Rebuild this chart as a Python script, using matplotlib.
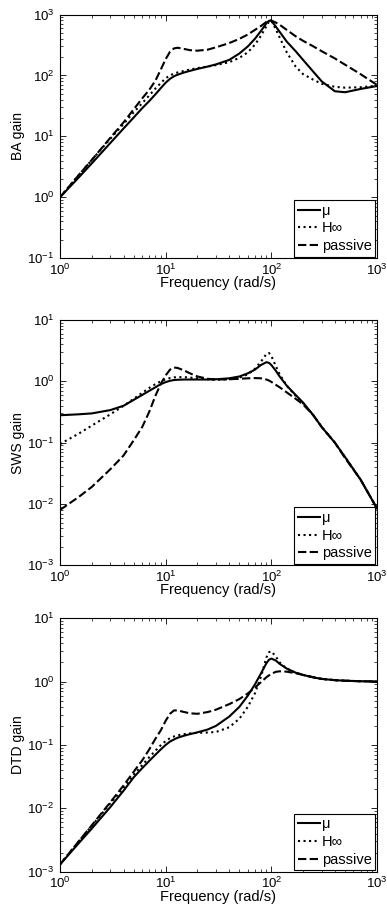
import matplotlib
matplotlib.use("Agg")
import matplotlib.pyplot as plt
from matplotlib.ticker import LogLocator, NullFormatter

plt.rcParams['font.family'] = ['Liberation Sans', 'DejaVu Sans']
plt.rcParams['mathtext.default'] = 'regular'
plt.rcParams['font.size'] = 10

# frequency grid (rad/s) shared by all curves
freq = [1, 1.5, 2, 3, 4, 5, 6, 7, 8, 9, 10, 11, 12, 13, 15, 17, 20, 25, 30,
        40, 50, 60, 70, 80, 90, 95, 100, 110, 120, 140, 170, 200, 250, 300,
        400, 500, 700, 1000]

# body acceleration gain
ba_mu = [1.0, 2.1, 3.6, 7.8, 13.5, 20.5, 29, 38, 49, 62, 76, 88, 97, 103, 112,
         119, 128, 140, 152, 180, 230, 300, 400, 540, 720, 790, 790, 640, 520,
         360, 250, 180, 115, 80, 55, 53, 60, 67]
ba_hinf = [1.0, 2.3, 4.1, 9.2, 16, 25, 35, 47, 61, 75, 90, 100, 107, 112, 119,
           125, 132, 140, 148, 165, 195, 240, 320, 450, 650, 760, 800, 580, 420,
           240, 140, 105, 85, 73, 65, 63, 64, 68]
ba_pas = [1.0, 2.3, 4.1, 9.5, 17, 28, 42, 58, 82, 125, 185, 245, 278, 285, 272,
          260, 255, 265, 290, 340, 400, 470, 560, 650, 760, 800, 800, 740, 680,
          560, 440, 370, 300, 250, 190, 150, 105, 70]

# suspension working space gain
sws_mu = [0.28, 0.29, 0.30, 0.34, 0.40, 0.50, 0.60, 0.70, 0.80, 0.90, 0.97,
          1.02, 1.05, 1.06, 1.07, 1.07, 1.07, 1.07, 1.08, 1.12, 1.2, 1.35,
          1.55, 1.85, 2.05, 2.0, 1.85, 1.5, 1.2, 0.85, 0.6, 0.45, 0.28, 0.18,
          0.1, 0.058, 0.025, 0.0085]
sws_hinf = [0.095, 0.14, 0.19, 0.29, 0.40, 0.52, 0.65, 0.78, 0.9, 1.0, 1.08,
            1.13, 1.16, 1.17, 1.17, 1.15, 1.12, 1.08, 1.06, 1.08, 1.15, 1.3,
            1.6, 2.1, 2.8, 2.9, 2.6, 1.8, 1.3, 0.85, 0.58, 0.44, 0.28, 0.18,
            0.1, 0.058, 0.025, 0.0085]
sws_pas = [0.008, 0.013, 0.019, 0.037, 0.062, 0.11, 0.18, 0.32, 0.58, 0.91,
           1.25, 1.55, 1.68, 1.65, 1.5, 1.35, 1.2, 1.1, 1.07, 1.08, 1.1, 1.12,
           1.13, 1.12, 1.07, 1.03, 0.98, 0.88, 0.8, 0.66, 0.52, 0.42, 0.28,
           0.18, 0.1, 0.056, 0.025, 0.0085]

# dynamic tyre deflection gain
dtd_mu = [0.0013, 0.0028, 0.0048, 0.0105, 0.019, 0.031, 0.043, 0.056, 0.07,
          0.085, 0.1, 0.113, 0.122, 0.13, 0.14, 0.148, 0.158, 0.175, 0.2, 0.28,
          0.4, 0.6, 0.9, 1.35, 1.95, 2.2, 2.3, 2.15, 1.9, 1.6, 1.38, 1.27,
          1.16, 1.1, 1.05, 1.03, 1.01, 1.0]
dtd_hinf = [0.0013, 0.003, 0.0053, 0.012, 0.021, 0.034, 0.048, 0.064, 0.081,
            0.099, 0.115, 0.128, 0.136, 0.142, 0.148, 0.152, 0.155, 0.157,
            0.16, 0.19, 0.26, 0.4, 0.65, 1.2, 2.4, 2.9, 3.0, 2.5, 2.0, 1.6,
            1.38, 1.27, 1.16, 1.1, 1.05, 1.03, 1.01, 1.0]
dtd_pas = [0.0013, 0.003, 0.0054, 0.0125, 0.023, 0.038, 0.057, 0.085, 0.125,
           0.17, 0.24, 0.31, 0.35, 0.35, 0.33, 0.315, 0.31, 0.33, 0.36, 0.44,
           0.53, 0.65, 0.8, 0.98, 1.17, 1.25, 1.32, 1.42, 1.45, 1.43, 1.35,
           1.27, 1.17, 1.1, 1.05, 1.03, 1.01, 1.0]

labels = ['\u03bc', 'H\u221e', 'passive']
ylabels = ['BA gain', 'SWS gain', 'DTD gain']
ylims = [(1e-1, 1e3), (1e-3, 1e1), (1e-3, 1e1)]
data = [(ba_mu, ba_hinf, ba_pas), (sws_mu, sws_hinf, sws_pas),
        (dtd_mu, dtd_hinf, dtd_pas)]

# axes boxes in figure fractions [left, bottom, width, height]
boxes = [[0.155, 0.716, 0.819, 0.268],
         [0.155, 0.378, 0.819, 0.270],
         [0.155, 0.041, 0.819, 0.279]]

fig = plt.figure(figsize=(3.87, 9.09), dpi=100)

for box, ylab, ylim, (mu, hinf, pas) in zip(boxes, ylabels, ylims, data):
    ax = fig.add_axes(box)
    ax.plot(freq, mu, 'k-', lw=1.5, label=labels[0])
    ax.plot(freq, hinf, 'k:', lw=1.5, label=labels[1])
    ax.plot(freq, pas, 'k--', lw=1.5, dashes=(4, 1.6), label=labels[2])
    ax.set_xscale('log')
    ax.set_yscale('log')
    ax.set_xlim(1, 1000)
    ax.set_ylim(*ylim)
    ax.xaxis.set_major_locator(LogLocator(base=10, numticks=10))
    ax.yaxis.set_major_locator(LogLocator(base=10, numticks=10))
    ax.xaxis.set_minor_locator(LogLocator(base=10, subs=range(2, 10), numticks=20))
    ax.yaxis.set_minor_locator(LogLocator(base=10, subs=range(2, 10), numticks=20))
    ax.xaxis.set_minor_formatter(NullFormatter())
    ax.yaxis.set_minor_formatter(NullFormatter())
    ax.tick_params(which='both', direction='in', top=True, right=True,
                   labelsize=9.5)
    ax.tick_params(axis='x', which='major', pad=3)
    ax.tick_params(axis='y', which='major', pad=4)
    ax.tick_params(which='major', length=4, width=0.6)
    ax.tick_params(which='minor', length=2, width=0.5)
    for s in ax.spines.values():
        s.set_linewidth(0.8)
    ax.set_xlabel('Frequency (rad/s)', fontsize=10.5, labelpad=-1)
    ax.set_ylabel(ylab, fontsize=10, labelpad=2)
    leg = ax.legend(loc='lower right', fontsize=10.5, handlelength=1.5,
                    handletextpad=0.15, borderaxespad=0.1, labelspacing=0.25,
                    borderpad=0.25, fancybox=False, framealpha=1)
    leg.get_frame().set_edgecolor('k')
    leg.get_frame().set_linewidth(0.8)

fig.savefig('out.png', dpi=100)
